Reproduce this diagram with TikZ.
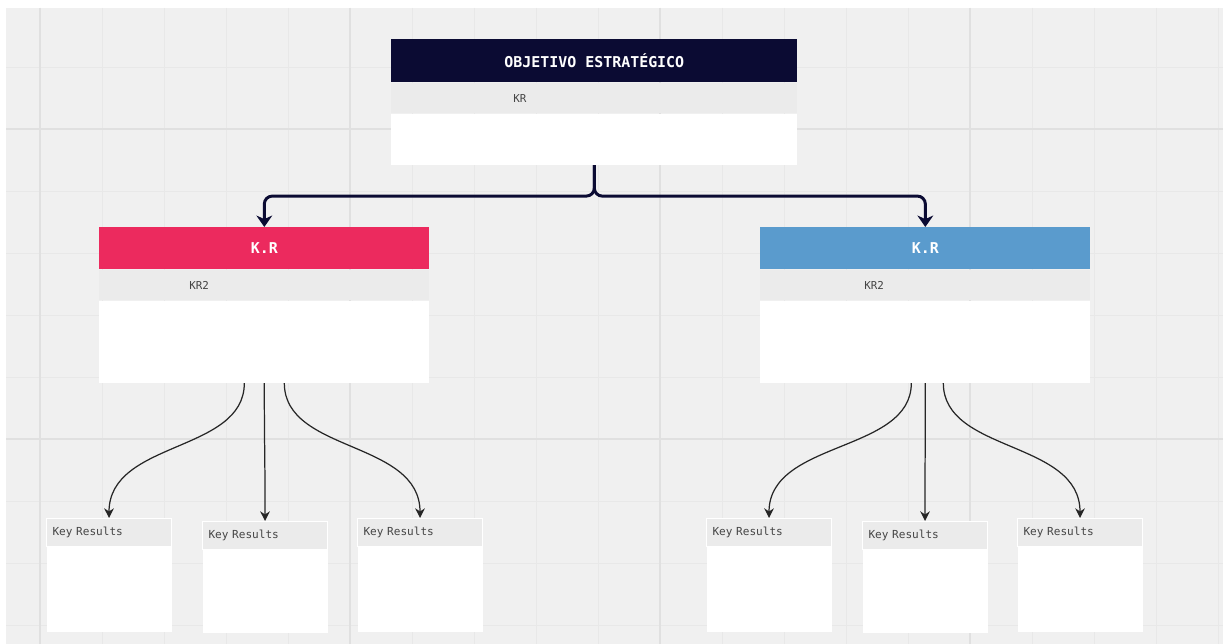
\documentclass[tikz,border=0pt]{standalone}
\usepackage{fontspec}
\setmonofont{DejaVu Sans Mono}
\usetikzlibrary{arrows.meta, positioning, calc}

\definecolor{bgcol}{HTML}{F0F0F0}
\definecolor{gridminor}{HTML}{E8E8E8}
\definecolor{gridmajor}{HTML}{E0E0E0}
\definecolor{navy}{HTML}{0B0B33}
\definecolor{krpink}{HTML}{EC2A5E}
\definecolor{krblue}{HTML}{5A9BCD}
\definecolor{rowcol}{HTML}{EBEBEB}
\definecolor{txtcol}{HTML}{444444}

\begin{document}
\begin{tikzpicture}[x=0.02cm, y=-0.02cm,
      hdr/.style={minimum height=0.86cm, inner sep=0pt, text=white,
                  font=\ttfamily\bfseries\fontsize{8.5pt}{10pt}\selectfont},
      row/.style={fill=rowcol, minimum height=0.6cm, inner sep=0pt},
      body/.style={fill=white, inner sep=0pt},
      rowtxt/.style={inner sep=0pt, text=txtcol,
                     font=\ttfamily\fontsize{6.2pt}{7pt}\selectfont},
      kresh/.style={fill=rowcol, draw=white, line width=0.6pt,
                    minimum height=0.56cm, text width=2.26cm, inner xsep=0.12cm,
                    inner ysep=0pt, align=left, text=txtcol,
                    font=\ttfamily\fontsize{6.3pt}{7pt}\selectfont},
      kresb/.style={fill=white, minimum width=2.5cm, inner sep=0pt},
      trunk/.style={navy, line width=1.7pt, rounded corners=4.5pt,
                    -{Stealth[length=6.5pt, width=9pt, inset=2pt]}},
      leaf/.style={black!85, line width=0.7pt, -{Stealth[length=5.5pt, width=5.5pt]}}]

    \useasboundingbox (0,0) rectangle (1223,644);

    % ===== Canvas =====
    \fill[white] (0,0) rectangle (1223,644);
    \fill[bgcol] (6,8) rectangle (1223,644);
    \foreach \gx in {40,102,...,1218} \draw[gridminor, line width=0.5pt] (\gx,8) -- (\gx,644);
    \foreach \gy in {67,129,...,625} \draw[gridminor, line width=0.5pt] (6,\gy) -- (1223,\gy);
    \foreach \gx in {40,350,660,970} \draw[gridmajor, line width=0.7pt] (\gx,8) -- (\gx,644);
    \foreach \gy in {129,439} \draw[gridmajor, line width=0.7pt] (6,\gy) -- (1223,\gy);

    % ===== Objective =====
    \node[hdr, fill=navy, minimum width=8.12cm, anchor=north west] (obj) at (391,39) {OBJETIVO ESTRATÉGICO};
    \node[row, minimum width=8.12cm, anchor=north west] (objrow) at (obj.south west) {};
    \node[rowtxt, anchor=west] (objkr) at ([xshift=2.44cm]objrow.west) {KR};
    \node[body, minimum width=8.12cm, minimum height=1.02cm, anchor=north west] (objbody) at (objrow.south west) {};

    % ===== K.R boxes =====
    \foreach \n/\x/\col/\off in {krA/99/krpink/1.8cm, krB/760/krblue/2.08cm} {
        \node[hdr, fill=\col, minimum width=6.6cm, minimum height=0.84cm, anchor=north west] (\n) at (\x,227) {K.R};
        \node[row, minimum width=6.6cm, anchor=north west] (\n row) at (\n.south west) {};
        \node[rowtxt, anchor=west] (\n txt) at ([xshift=\off]\n row.west) {KR2};
        \node[body, minimum width=6.6cm, minimum height=1.64cm, anchor=north west] (\n body) at (\n row.south west) {};
    }

    % ===== Key Results =====
    \foreach \i/\x/\y/\h in {1/46/518/1.7cm, 2/202/521/1.66cm, 3/357/518/1.7cm,
                             4/706/518/1.7cm, 5/862/521/1.66cm, 6/1017/518/1.7cm} {
        \node[kresh, anchor=north west] (kres\i) at (\x,\y) {Key Results};
        \node[kresb, minimum height=\h, anchor=north] (kresb\i) at (kres\i.south) {};
    }

    % ===== Connectors =====
    \draw[trunk] (objbody.south) -- ++(0,31) -| (krA.north);
    \draw[trunk] (objbody.south) -- ++(0,31) -| (krB.north);

    \foreach \src/\k/\dx in {krAbody/1/-20, krAbody/2/0, krAbody/3/20,
                             krBbody/4/-14, krBbody/5/0, krBbody/6/18} {
        \draw[leaf] ($(\src.south)+(\dx,0)$) .. controls +(0,70) and +(0,-78) .. (kres\k.north);
    }

\end{tikzpicture}
\end{document}
